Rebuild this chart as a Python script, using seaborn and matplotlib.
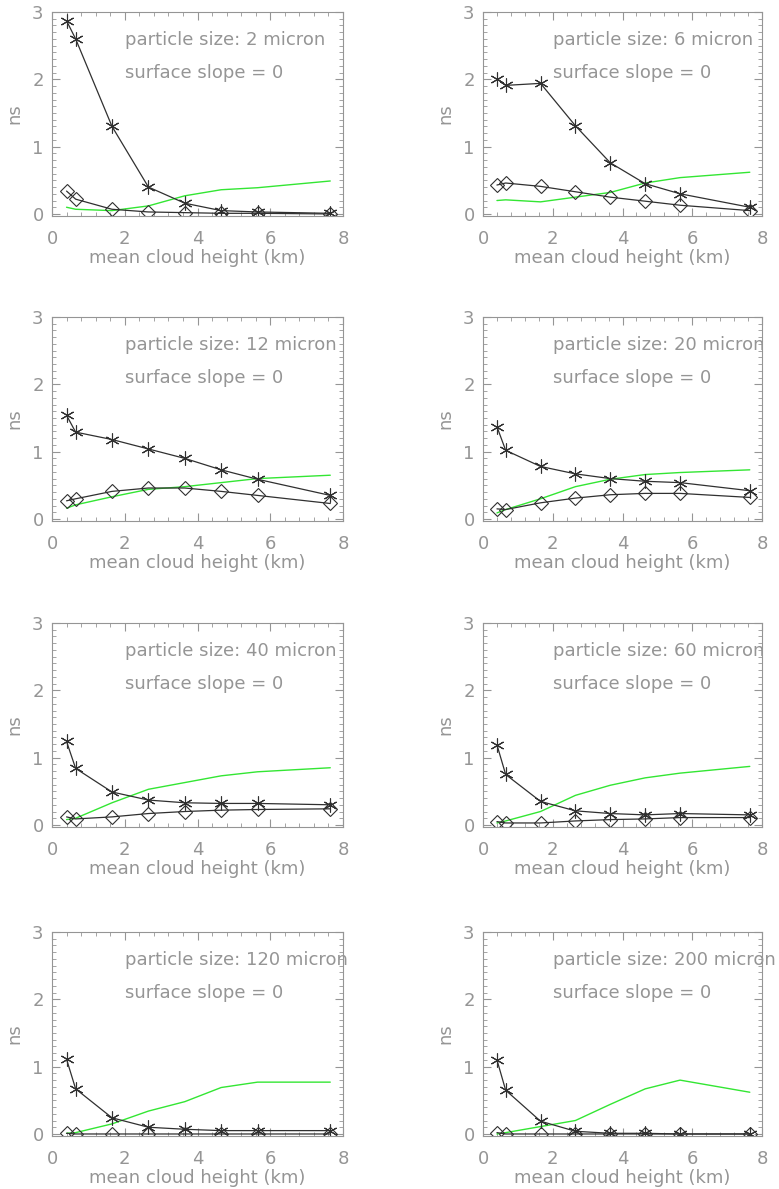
"""Cloud-height sensitivity panels (IDL-style look) redrawn with seaborn."""
import matplotlib
matplotlib.use("Agg")
import matplotlib.pyplot as plt
import numpy as np
import seaborn as sns
from matplotlib.ticker import MultipleLocator

# ---------- data ----------
heights = [0.4, 0.65, 1.65, 2.65, 3.65, 4.65, 5.65, 7.65]
sizes = [2, 6, 12, 20, 40, 60, 120, 200]

stars = {
    2:   [2.87, 2.60, 1.30, 0.40, 0.16, 0.05, 0.03, 0.01],
    6:   [2.01, 1.91, 1.94, 1.31, 0.76, 0.45, 0.30, 0.10],
    12:  [1.54, 1.29, 1.18, 1.04, 0.90, 0.73, 0.59, 0.35],
    20:  [1.37, 1.02, 0.78, 0.67, 0.60, 0.56, 0.54, 0.42],
    40:  [1.24, 0.84, 0.49, 0.37, 0.33, 0.32, 0.32, 0.30],
    60:  [1.19, 0.75, 0.35, 0.21, 0.17, 0.15, 0.17, 0.15],
    120: [1.11, 0.67, 0.24, 0.10, 0.07, 0.05, 0.05, 0.05],
    200: [1.10, 0.65, 0.19, 0.04, 0.01, 0.01, 0.00, 0.00],
}
diamonds = {
    2:   [0.34, 0.22, 0.07, 0.03, 0.02, 0.01, 0.01, 0.00],
    6:   [0.43, 0.46, 0.41, 0.33, 0.25, 0.19, 0.13, 0.05],
    12:  [0.27, 0.30, 0.41, 0.46, 0.46, 0.41, 0.35, 0.23],
    20:  [0.15, 0.14, 0.24, 0.31, 0.36, 0.38, 0.38, 0.32],
    40:  [0.12, 0.09, 0.12, 0.17, 0.20, 0.22, 0.23, 0.24],
    60:  [0.05, 0.03, 0.03, 0.06, 0.08, 0.09, 0.11, 0.11],
    120: [0.01, 0.00, 0.00, 0.00, 0.00, 0.00, 0.00, 0.00],
    200: [0.02, 0.00, 0.00, 0.00, 0.00, 0.00, 0.00, 0.00],
}
green = {
    2:   [0.10, 0.07, 0.05, 0.12, 0.27, 0.36, 0.39, 0.49],
    6:   [0.20, 0.21, 0.18, 0.25, 0.32, 0.46, 0.54, 0.62],
    12:  [0.16, 0.21, 0.33, 0.44, 0.48, 0.54, 0.60, 0.65],
    20:  [0.09, 0.14, 0.30, 0.48, 0.59, 0.66, 0.69, 0.73],
    40:  [0.08, 0.10, 0.33, 0.53, 0.63, 0.73, 0.79, 0.85],
    60:  [0.03, 0.06, 0.20, 0.44, 0.59, 0.70, 0.77, 0.87],
    120: [0.01, 0.02, 0.15, 0.34, 0.48, 0.69, 0.77, 0.77],
    200: [0.00, 0.02, 0.11, 0.20, 0.44, 0.67, 0.80, 0.62],
}

GRAY = "#959595"
LINE = "#303030"
GREEN = "#33e633"
FS = 13

sns.set_theme(style="ticks", rc={
    "axes.edgecolor": GRAY,
    "axes.labelcolor": GRAY,
    "xtick.color": GRAY,
    "ytick.color": GRAY,
    "text.color": GRAY,
    "axes.linewidth": 0.8,
})
plt.rcParams["font.family"] = ["DejaVu Sans"]

W, H = 779, 1189
fig = plt.figure(figsize=(W / 100, H / 100), dpi=100)

col_left = [52, 483]
col_width = [291, 279]
row_top = [12, 317, 623, 932]
ax_h = 204

star_marker = (6, 2, 0)

for i, size in enumerate(sizes):
    r, c = divmod(i, 2)
    left = col_left[c] / W
    bottom = 1 - (row_top[r] + ax_h) / H
    ax = fig.add_axes([left, bottom, col_width[c] / W, ax_h / H])

    sns.lineplot(x=heights, y=green[size], color=GREEN, lw=1.0, ax=ax)
    sns.lineplot(x=heights, y=diamonds[size], color=LINE, lw=0.9, ax=ax,
                 marker="D", markersize=7, markerfacecolor="none",
                 markeredgecolor=LINE, markeredgewidth=0.8)
    sns.lineplot(x=heights, y=stars[size], color=LINE, lw=0.9, ax=ax,
                 marker=star_marker, markersize=10, markeredgecolor=LINE,
                 markeredgewidth=0.8)

    ax.set_xlim(0, 8)
    ax.set_ylim(-0.03, 3.0)
    ax.xaxis.set_major_locator(MultipleLocator(2))
    ax.xaxis.set_minor_locator(MultipleLocator(0.4))
    ax.yaxis.set_major_locator(MultipleLocator(1))
    ax.yaxis.set_minor_locator(MultipleLocator(0.1))
    ax.tick_params(which="both", direction="in", top=True, right=True,
                   labelsize=FS)
    ax.tick_params(axis="x", which="major", pad=10)
    ax.tick_params(axis="y", which="major", pad=6)
    ax.tick_params(which="major", length=6, width=0.8)
    ax.tick_params(which="minor", length=3, width=0.6)
    for s in ax.spines.values():
        s.set_visible(True)

    ax.set_xlabel("mean cloud height (km)", fontsize=FS, labelpad=1)
    ax.set_ylabel("ns", fontsize=FS, labelpad=6)

    ax.text(0.25, 0.865, f"particle size: {size} micron", transform=ax.transAxes,
            fontsize=FS, va="center", ha="left", clip_on=False)
    ax.text(0.25, 0.70, "surface slope = 0", transform=ax.transAxes,
            fontsize=FS, va="center", ha="left")

fig.savefig("out.png", dpi=100, facecolor="white")
